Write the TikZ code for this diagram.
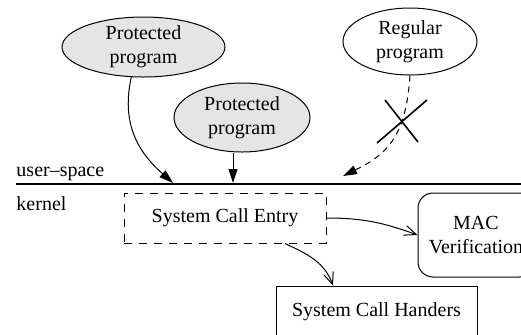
\documentclass[tikz,border=0pt]{standalone}
\usepackage{fontspec}
\setmainfont{Liberation Serif}
\usetikzlibrary{positioning, arrows.meta, shapes.geometric}
\definecolor{progfill}{gray}{0.9}
\newcommand{\solidarrow}{-{Triangle[length=7pt,width=4.5pt]}}
\newcommand{\openarrow}{-{Straight Barb[length=6pt,width=5pt]}}

\begin{document}
\begin{tikzpicture}[x=0.5pt, y=-0.5pt, line width=0.5pt,
    prog/.style={ellipse, draw, align=center, inner sep=0pt},
    entrybox/.style={draw, dash pattern=on 4pt off 3.5pt, minimum width=101pt, minimum height=25pt}]
            \useasboundingbox (0,0) rectangle (521,334);
            \node[prog, fill=progfill, minimum width=81.5pt, minimum height=30pt] (protone) at (143.5,47) {Protected\\program};
            \node[prog, fill=progfill, minimum width=68pt, minimum height=34.5pt] (prottwo) at (242,117.5) {Protected\\program};
            \node[prog, minimum width=67pt, minimum height=33.5pt] (regular) at (410,41.5) {Regular\\program};
            \node[anchor=base west, inner sep=0pt] (userlabel) at (16,176) {user--space};
            \node[anchor=base west, inner sep=0pt] (kernellabel) at (16,210) {kernel};
            \node[entrybox] (entry) at (225,218) {System Call Entry};
            \node[draw, rounded corners=7.5pt, align=center, minimum width=58pt, minimum height=42pt] (mac) at (476,235) {MAC\\Verification};
            \node[draw, minimum width=100.5pt, minimum height=26pt] (handlers) at (376.5,312) {System Call Handers};
            \coordinate (sepleft) at (16,184);
            \coordinate (sepright) at (521,184);
            \coordinate (hitone) at (173,183);
            \coordinate (hittwo) at (233,183);
            \coordinate (hitregular) at (343,176);
            \draw[line width=1pt] (sepleft) -- (sepright);
            \draw[\solidarrow] (protone.248) .. controls +(-12,53) and +(-28,-25) .. (hitone);
            \draw[\solidarrow] (prottwo.south -| hittwo) -- (hittwo);
            \draw[\solidarrow, dash pattern=on 3pt off 2.5pt] (regular.south) .. controls +(-4,60) and +(45,-22) .. (hitregular);
            \draw[line width=0.8pt] (377,143) -- (427,100);
            \draw[line width=0.8pt] (385,100) -- (418,142);
            \draw[\openarrow] (entry.east) to[out=0, in=160] (mac.west);
            \draw[\openarrow] ([xshift=30pt]entry.south) to[out=-25, in=110] ([xshift=-21.75pt]handlers.north);
        \end{tikzpicture}
\end{document}
